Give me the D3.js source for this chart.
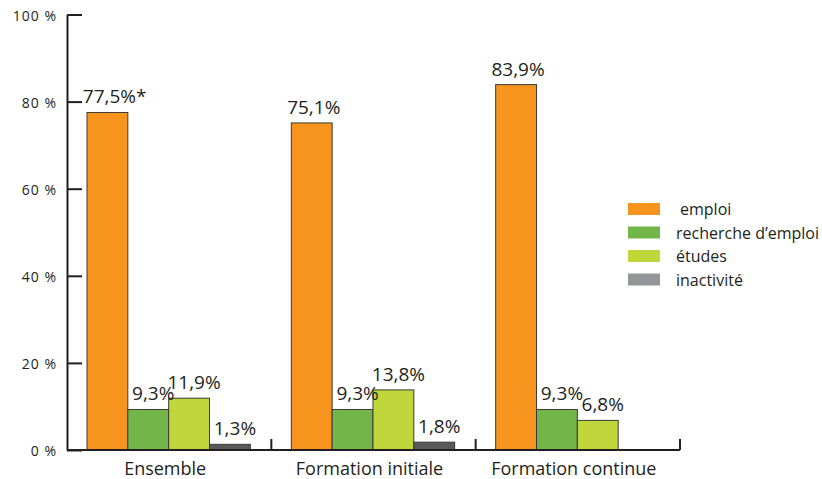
<!DOCTYPE html>
<html>
<head>
<meta charset="utf-8">
<script src="https://cdn.jsdelivr.net/npm/d3@7"></script>
<style>
  html, body { margin: 0; padding: 0; background: #fff; }
  svg { display: block; }
  text { font-family: "Open Sans", "Noto Sans", sans-serif; fill: #231f20; }
</style>
</head>
<body>
<svg id="chart" width="822" height="479"></svg>
<script>
// ---- data ----
const categories = ["Ensemble", "Formation initiale", "Formation continue"];
const series = ["emploi", "recherche d’emploi", "études", "inactivité"];
const emploi = [77.5, 75.1, 83.9];
const rechercheEmploi = [9.3, 9.3, 9.3];
const etudes = [11.9, 13.8, 6.8];
const inactivite = [1.3, 1.8, null];
const yTicks = [0, 20, 40, 60, 80, 100];
const footnoteMark = { category: "Ensemble", series: "emploi", mark: "*" };

const seriesValues = [emploi, rechercheEmploi, etudes, inactivite];
const barColors = ["#f7941d", "#72b64a", "#bfd73b", "#595959"];
const legendColors = ["#f7941d", "#72b64a", "#bfd73b", "#939598"];

// ---- layout ----
const svg = d3.select("#chart");
const x0 = d3.scaleBand().domain(categories).range([67, 680]).paddingInner(0).paddingOuter(0);
const x1 = d3.scaleBand().domain(series).range([20, x0.bandwidth() - 21]);
const y = d3.scaleLinear().domain([0, 100]).range([450, 14.5]);

// y axis
const yAxis = d3.axisLeft(y)
  .tickValues(yTicks)
  .tickSizeInner(-15)
  .tickSizeOuter(0)
  .tickPadding(10)
  .tickFormat(d => d + " %");
const gy = svg.append("g").attr("transform", "translate(67,0)").call(yAxis);
gy.select(".domain").attr("stroke", "#231f20").attr("stroke-width", 2);
gy.selectAll(".tick line").attr("stroke", "#231f20").attr("stroke-width", 2);
gy.selectAll(".tick text")
  .style("font-family", '"Open Sans", sans-serif')
  .style("font-size", "14px")
  .style("letter-spacing", "1px")
  .attr("dy", "0.4em")
  .attr("fill", "#231f20");

// bars
const rows = [];
categories.forEach((c, i) => {
  series.forEach((s, j) => {
    const v = seriesValues[j][i];
    if (v !== null && v !== undefined) rows.push({ category: c, series: s, value: v, si: j });
  });
});

const bars = svg.append("g");
bars.selectAll("rect").data(rows).join("rect")
  .attr("x", d => x0(d.category) + x1(d.series))
  .attr("y", d => y(d.value))
  .attr("width", x1.bandwidth())
  .attr("height", d => y(0) - y(d.value))
  .attr("fill", d => barColors[d.si])
  .attr("stroke", "#3a3a3a")
  .attr("stroke-width", 1);

// value labels (centred on the number; footnote mark trails after)
const fmt = v => d3.format(".1f")(v).replace(".", ",") + "%";
const labels = svg.append("g").selectAll("text").data(rows).join("text")
  .attr("y", d => y(d.value) - 9)
  .attr("text-anchor", "start")
  .style("font-size", "19px")
  .attr("fill", "#231f20")
  .text(d => fmt(d.value));
labels.each(function(d) {
  const w = this.getComputedTextLength();
  const cx = x0(d.category) + x1(d.series) + x1.bandwidth() / 2 + (d.si === 0 ? 2 : 5);
  d3.select(this).attr("x", cx - w / 2);
  if (d.category === footnoteMark.category && d.series === footnoteMark.series) {
    d3.select(this).append("tspan").text(footnoteMark.mark);
  }
});

// x axis baseline and separators
const gx = svg.append("g");
gx.append("line")
  .attr("x1", x0.range()[0]).attr("x2", x0.range()[1])
  .attr("y1", y(0)).attr("y2", y(0))
  .attr("stroke", "#231f20").attr("stroke-width", 2);
gx.selectAll("line.sep").data(categories).join("line")
  .attr("class", "sep")
  .attr("x1", d => x0(d) + x0.bandwidth()).attr("x2", d => x0(d) + x0.bandwidth())
  .attr("y1", y(0)).attr("y2", y(0) - 11)
  .attr("stroke", "#231f20").attr("stroke-width", 2);
gx.selectAll("text").data(categories).join("text")
  .attr("x", d => x0(d) + x0.bandwidth() / 2 - 4)
  .attr("y", 475)
  .attr("text-anchor", "middle")
  .style("font-size", "18px")
  .attr("fill", "#231f20")
  .text(d => d);

// legend
const legend = svg.append("g").attr("transform", "translate(628,203)");
const li = legend.selectAll("g").data(series).join("g")
  .attr("transform", (d, i) => `translate(0,${i * 23.5})`);
li.append("rect").attr("width", 32).attr("height", 12)
  .attr("fill", (d, i) => legendColors[i]);
li.append("text")
  .attr("x", (d, i) => i === 0 ? 52 : 48)
  .attr("y", 12)
  .style("font-size", "16px")
  .attr("fill", "#231f20")
  .text(d => d);
</script>
</body>
</html>
